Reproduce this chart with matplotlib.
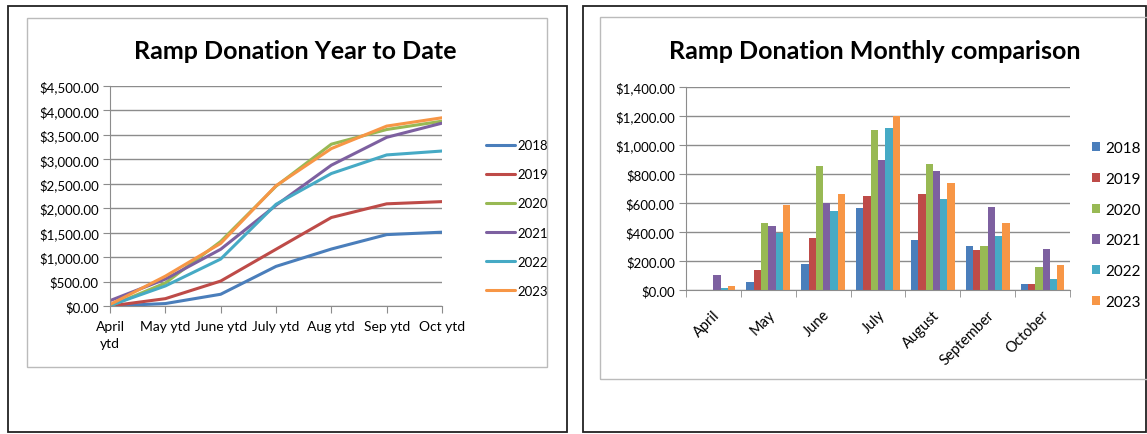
import matplotlib
matplotlib.use("Agg")
import matplotlib.pyplot as plt
from matplotlib.patches import Rectangle
from matplotlib.ticker import FuncFormatter
import numpy as np

plt.rcParams['font.family'] = ['Lato', 'DejaVu Sans']

years = ['2018', '2019', '2020', '2021', '2022', '2023']
colors = ['#4A7EBB', '#BE4B48', '#98B954', '#7D60A0', '#46AAC5', '#F79646']

# year to date (cumulative) values
ytd_labels = ['April\nytd', 'May ytd', 'June ytd', 'July ytd', 'Aug ytd', 'Sep ytd', 'Oct ytd']
ytd_2018 = [0, 50, 240, 810, 1165, 1460, 1510]
ytd_2019 = [0, 150, 510, 1160, 1810, 2090, 2135]
ytd_2020 = [0, 470, 1320, 2450, 3310, 3610, 3780]
ytd_2021 = [110, 550, 1160, 2060, 2880, 3450, 3740]
ytd_2022 = [10, 410, 960, 2080, 2710, 3090, 3170]
ytd_2023 = [30, 610, 1280, 2460, 3220, 3680, 3850]
ytd = [ytd_2018, ytd_2019, ytd_2020, ytd_2021, ytd_2022, ytd_2023]

# monthly values
months = ['April', 'May', 'June', 'July', 'August', 'September', 'October']
mon_2018 = [0, 53, 177, 564, 345, 306, 41]
mon_2019 = [0, 138, 361, 645, 659, 276, 41]
mon_2020 = [0, 465, 857, 1105, 868, 306, 157]
mon_2021 = [106, 444, 601, 900, 822, 571, 281]
mon_2022 = [12, 396, 548, 1114, 629, 375, 74]
mon_2023 = [25, 583, 659, 1197, 741, 465, 170]
monthly = [mon_2018, mon_2019, mon_2020, mon_2021, mon_2022, mon_2023]

W, H = 1147, 435
fig = plt.figure(figsize=(W / 100, H / 100), dpi=100)


def box(x0, y0, x1, y1, color, lw):
    fig.patches.append(Rectangle((x0 / W, 1 - y1 / H), (x1 - x0) / W, (y1 - y0) / H,
                                 transform=fig.transFigure, fill=False,
                                 edgecolor=color, linewidth=lw))


# panel borders
box(8, 7, 567, 433, '#222222', 1.3)
box(583, 7, 1146, 433, '#222222', 1.3)
box(27, 19, 547, 368, '#BBBBBB', 1.0)
box(600, 18, 1160, 380, '#BBBBBB', 1.0)

money = FuncFormatter(lambda v, p: '${:,.2f}'.format(v))
grid_c = '#8C8C8C'

# left: year to date lines
ax1 = fig.add_axes([110 / W, 1 - 307 / H, (442 - 110) / W, (307 - 87) / H])
x = np.arange(len(ytd_labels))
for vals, yr, c in zip(ytd, years, colors):
    ax1.plot(x, vals, color=c, lw=2.2, label=yr, solid_capstyle='round')
ax1.set_xlim(0, 6)
ax1.set_ylim(0, 4500)
ax1.set_yticks(np.arange(0, 4501, 500))
ax1.yaxis.set_major_formatter(money)
ax1.set_xticks(x)
ax1.set_xticklabels(ytd_labels, fontsize=10, linespacing=1.5)
ax1.grid(axis='y', color=grid_c, lw=1)
ax1.set_axisbelow(True)
for s in ['top', 'right']:
    ax1.spines[s].set_visible(False)
for s in ['left', 'bottom']:
    ax1.spines[s].set_color(grid_c)
ax1.tick_params(axis='x', length=5, color=grid_c, pad=5)
ax1.tick_params(axis='y', length=5, color=grid_c, labelsize=9.5, pad=3)
fig.text(295 / W, 1 - 52 / H, 'Ramp Donation Year to Date', ha='center', va='center',
         fontsize=18, fontweight='bold')
ax1.legend(loc='center left', bbox_to_anchor=(486 / W, 1 - 219 / H),
           bbox_transform=fig.transFigure, frameon=False, fontsize=9.5,
           handlelength=2.2, handletextpad=0.2, labelspacing=1.3, borderpad=0,
           borderaxespad=0)

# right: monthly bars
ax2 = fig.add_axes([686 / W, 1 - 291 / H, (1070 - 686) / W, (291 - 88) / H])
xm = np.arange(len(months))
bw = 0.133
for i, (vals, yr, c) in enumerate(zip(monthly, years, colors)):
    ax2.bar(xm + (i - 2.5) * bw, vals, width=bw, color=c, label=yr)
ax2.set_xlim(-0.5, 6.5)
ax2.set_ylim(0, 1400)
ax2.set_yticks(np.arange(0, 1401, 200))
ax2.yaxis.set_major_formatter(money)
ax2.set_xticks(xm + 0.08)
ax2.set_xticklabels(months, rotation=45, ha='right', va='center',
                    rotation_mode='anchor', fontsize=10.5)
ax2.set_xticks(np.arange(-0.5, 7, 1), minor=True)
ax2.tick_params(axis='x', which='major', length=0, pad=16)
ax2.tick_params(axis='x', which='minor', length=5, color=grid_c)
ax2.tick_params(axis='y', length=5, color=grid_c, labelsize=9.5, pad=3)
ax2.grid(axis='y', color=grid_c, lw=1)
ax2.set_axisbelow(True)
for s in ['top', 'right']:
    ax2.spines[s].set_visible(False)
for s in ['left', 'bottom']:
    ax2.spines[s].set_color(grid_c)
fig.text(875 / W, 1 - 52 / H, 'Ramp Donation Monthly comparison', ha='center', va='center',
         fontsize=18, fontweight='bold')
ax2.legend(loc='center left', bbox_to_anchor=(1092 / W, 1 - 226 / H),
           bbox_transform=fig.transFigure, frameon=False, fontsize=11,
           handlelength=0.55, handleheight=0.55, handletextpad=0.3, labelspacing=1.1,
           borderpad=0, borderaxespad=0)

fig.savefig('out.png', dpi=100)
